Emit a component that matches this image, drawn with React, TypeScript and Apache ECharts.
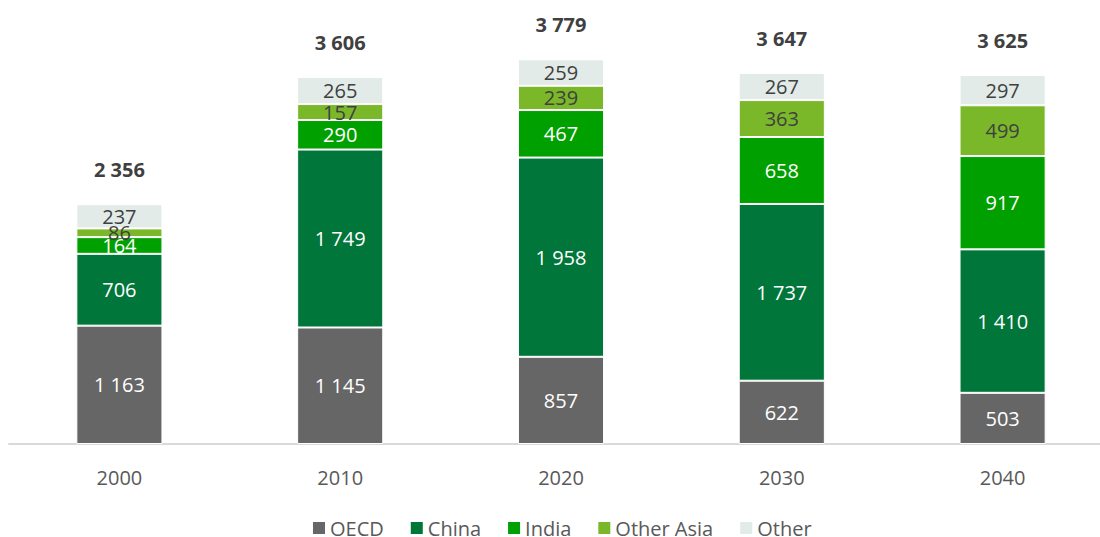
import React, { useEffect, useRef } from "react";
import * as echarts from "echarts";

const categories = ["2000", "2010", "2020", "2030", "2040"];
const oecd = [1163, 1145, 857, 622, 503];
const china = [706, 1749, 1958, 1737, 1410];
const india = [164, 290, 467, 658, 917];
const otherAsia = [86, 157, 239, 363, 499];
const other = [237, 265, 259, 267, 297];
const totals = [2356, 3606, 3779, 3647, 3625];
const legendNames = ["OECD", "China", "India", "Other Asia", "Other"];

const FONT = "'Open Sans', Lato, sans-serif";

const fmt = (v: number) => {
  const s = String(Math.round(v));
  return s.replace(/\B(?=(\d{3})+(?!\d))/g, " ");
};

export default function App() {
  const ref = useRef<HTMLDivElement>(null);
  useEffect(() => {
    if (!ref.current) return;
    const chart = echarts.init(ref.current, null, { renderer: "svg" });
    const mk = (name: string, data: number[], color: string, labelColor: string) => ({
      name,
      type: "bar",
      stack: "total",
      data,
      barWidth: "39%",
      itemStyle: { color, borderColor: "#ffffff", borderWidth: 1 },
      label: {
        show: true,
        position: "inside",
        color: labelColor,
        fontFamily: FONT,
        fontSize: 20,
        formatter: (p: any) => fmt(p.value),
      },
    });
    const legendWidths = [53, 53, 46, 106, 50];
    chart.setOption({
      animation: false,
      textStyle: { fontFamily: FONT },
      grid: { left: 9, right: 0, top: 37, height: 407 },
      xAxis: {
        type: "category",
        data: categories,
        axisLine: { show: true, lineStyle: { color: "#d9d9d9", width: 2 } },
        axisTick: { show: false },
        axisLabel: { color: "#595959", fontSize: 20, margin: 23, fontFamily: FONT },
      },
      yAxis: {
        type: "value",
        min: 0,
        max: 4000,
        show: false,
        splitLine: { show: false },
      },
      legend: {
        left: 313,
        top: 518,
        padding: 0,
        icon: "rect",
        itemWidth: 12,
        itemHeight: 12,
        itemGap: 27,
        itemStyle: { borderWidth: 0 },
        textStyle: { color: "#595959", fontSize: 20, fontFamily: FONT },
        data: legendNames.map((n, i) => ({ name: n, textStyle: { width: legendWidths[i] } })),
      },
      series: [
        mk("OECD", oecd, "#666666", "#ffffff"),
        mk("China", china, "#00763a", "#ffffff"),
        mk("India", india, "#00a000", "#ffffff"),
        mk("Other Asia", otherAsia, "#7ab82a", "#404040"),
        mk("Other", other, "#e2ebe8", "#404040"),
        {
          name: "Total",
          type: "line",
          data: totals,
          symbol: "circle",
          symbolSize: 1,
          itemStyle: { color: "rgba(0,0,0,0)" },
          lineStyle: { opacity: 0 },
          silent: true,
          z: 10,
          label: {
            show: true,
            position: "top",
            distance: 24,
            color: "#404040",
            fontWeight: "bold",
            fontSize: 20,
            fontFamily: FONT,
            formatter: (p: any) => fmt(p.value),
          },
        },
      ],
    });
    return () => chart.dispose();
  }, []);
  return (
    <div style={{ position: "absolute", left: 0, top: 0, width: 1100, height: 537, overflow: "hidden" }}>
      <div ref={ref} style={{ width: 1113, height: 537 }} />
    </div>
  );
}
